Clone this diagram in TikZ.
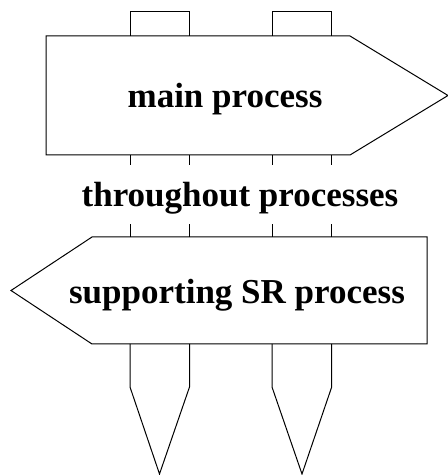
\documentclass[tikz,border=0pt]{standalone}
\usepackage{fontspec}
\setmainfont{Liberation Serif}
\begin{document}
\begin{tikzpicture}[x=1pt, y=1pt,
  outline/.style={draw, line width=1pt, line join=miter},
  lbl/.style={font=\fontsize{35}{42}\selectfont\bfseries, inner sep=0pt, anchor=base}]
\useasboundingbox (0,0) rectangle (448,475);
\draw[outline] (130,439) -- (130,463) -- (189.5,463) -- (189.5,439);
\draw[outline] (272,439) -- (272,463) -- (331.7,463) -- (331.7,439);
\draw[outline] (46,439) -- (350,439) -- (448,379.5) -- (350,320) -- (46,320) -- cycle;
\node[lbl] (main) at (225,367) {main process};
\draw[outline] (130,320) -- (130,309.5);
\draw[outline] (189.5,320) -- (189.5,309.5);
\draw[outline] (272,320) -- (272,309.5);
\draw[outline] (331.7,320) -- (331.7,309.5);
\node[lbl] (through) at (240,268) {throughout processes};
\draw[outline] (130,238) -- (130,251);
\draw[outline] (189.5,238) -- (189.5,251);
\draw[outline] (272,238) -- (272,251);
\draw[outline] (331.7,238) -- (331.7,251);
\draw[outline] (92,238) -- (427,238) -- (427,131) -- (92,131) -- (11,184.5) -- cycle;
\node[lbl] (support) at (237,171) {supporting SR process};
\draw[outline] (130,131) -- (130,88) -- (159.5,1) -- (189.5,88) -- (189.5,131);
\draw[outline] (272,131) -- (272,88) -- (302,1) -- (331.7,88) -- (331.7,131);
\end{tikzpicture}
\end{document}
